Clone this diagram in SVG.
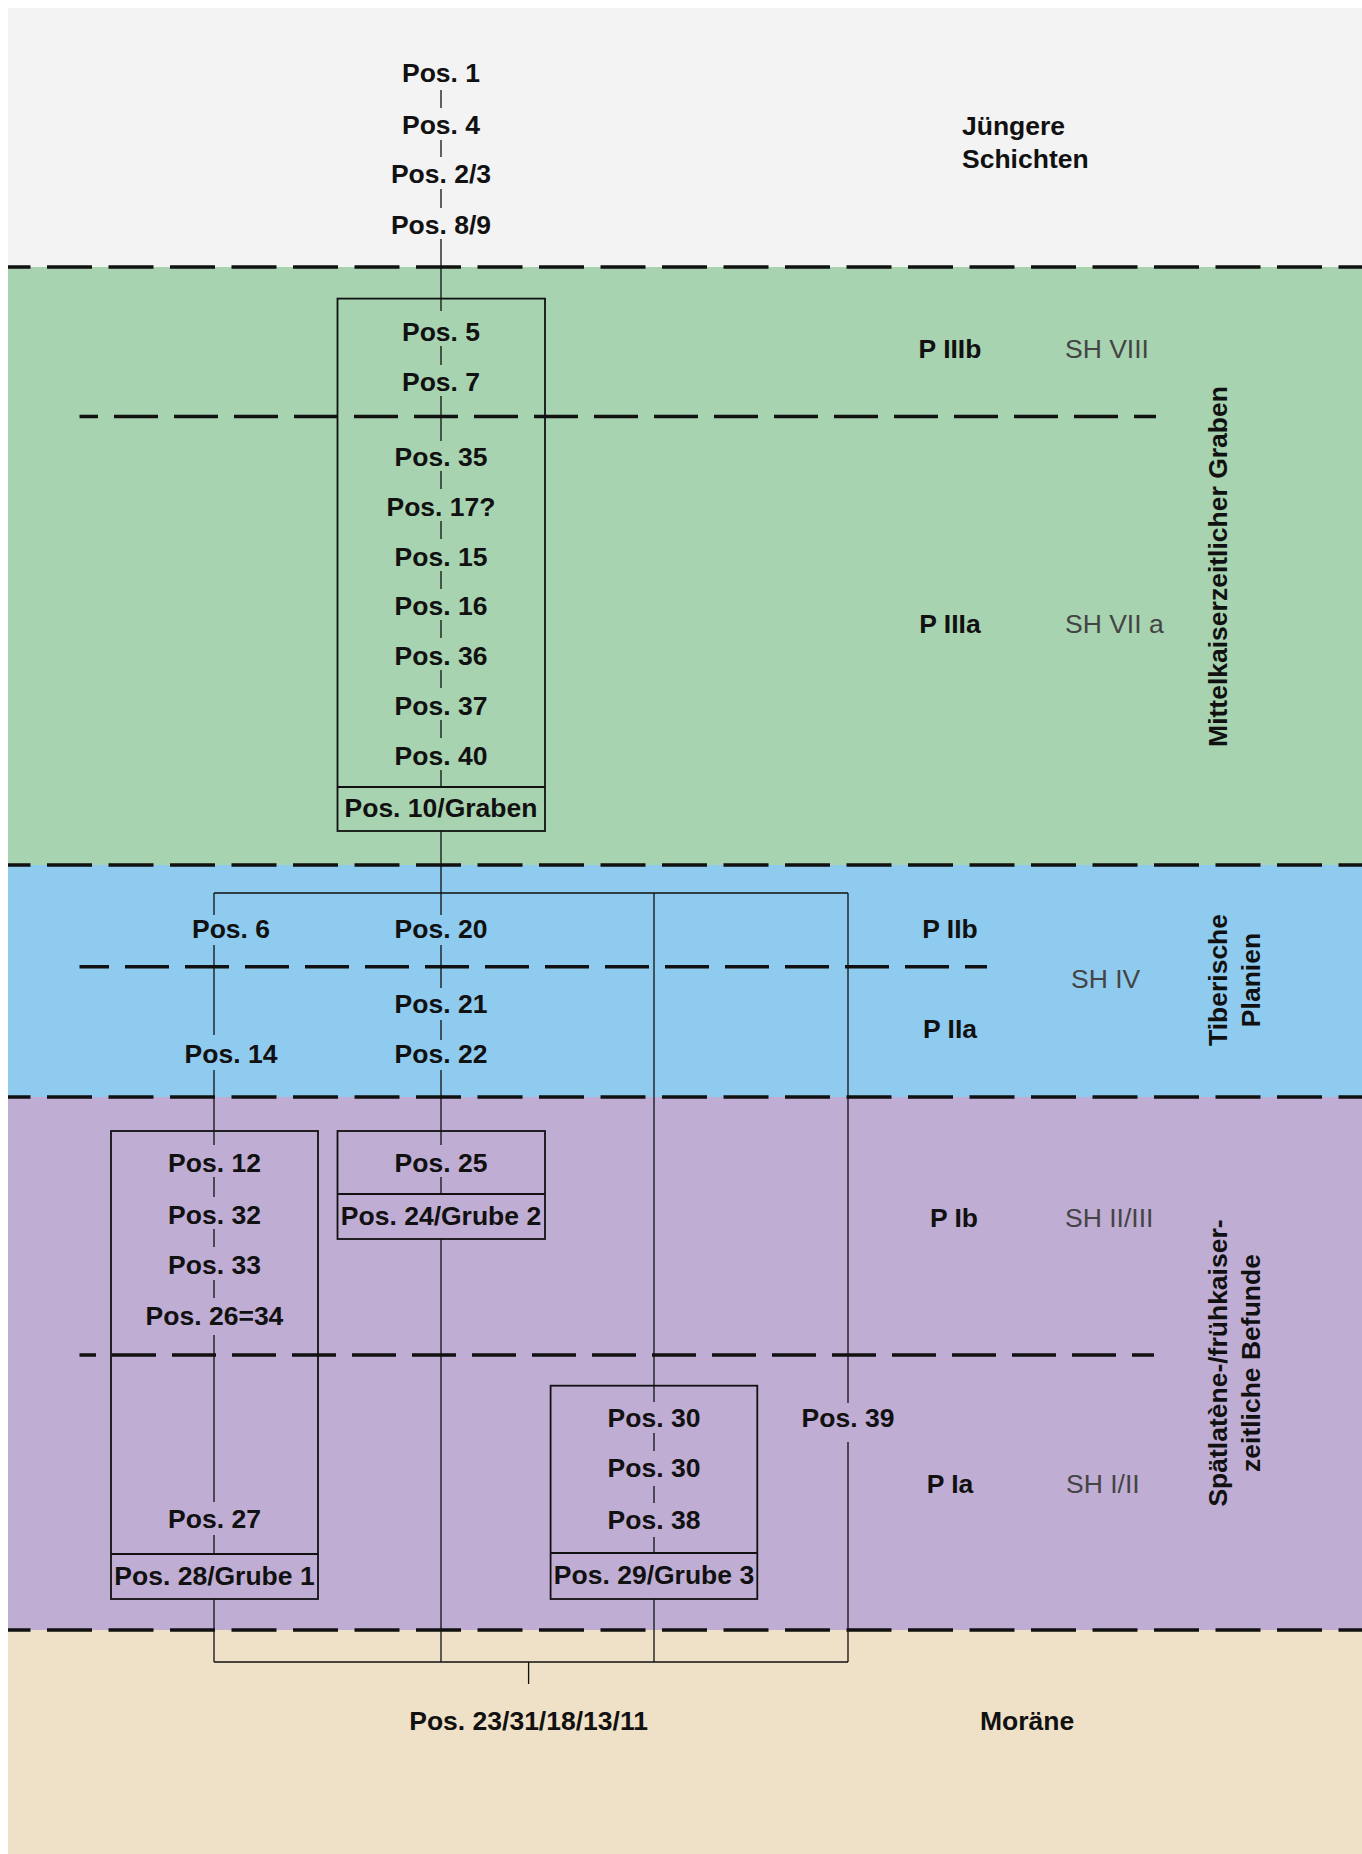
<svg xmlns="http://www.w3.org/2000/svg" width="1362" height="1854" viewBox="0 0 1362 1854">
<style>
.t{font-family:"Liberation Sans",Arial,sans-serif;font-size:26.5px;font-weight:bold;fill:#111;text-anchor:middle}
.l{text-anchor:start}
.sh{font-family:"Liberation Sans",Arial,sans-serif;font-size:26.5px;fill:#444;text-anchor:start}
.main{stroke:#111;stroke-width:3.5;stroke-dasharray:45 16.5;stroke-dashoffset:22.5;fill:none}
.inner{stroke:#111;stroke-width:3.5;stroke-dasharray:44 16;stroke-dashoffset:22;fill:none}
.c{stroke:#111;stroke-width:1.3;fill:none}
.box{stroke:#111;stroke-width:1.8;fill:none}
</style>
<g id="bands">
<rect x="8" y="8" width="1354" height="259" fill="#f3f3f3"/>
<rect x="8" y="267" width="1354" height="598" fill="#a8d3b0"/>
<rect x="8" y="865" width="1354" height="232" fill="#8fcbef"/>
<rect x="8" y="1097" width="1354" height="533" fill="#bfadd4"/>
<rect x="8" y="1630" width="1354" height="224" fill="#efe1c7"/>
</g>
<g id="boxes">
<g id="box-graben"><rect class="box" x="337.5" y="298.6" width="207.5" height="532.4"/><line class="box" x1="337.5" y1="787" x2="545" y2="787"/></g>
<g id="box-grube1"><rect class="box" x="111" y="1131" width="207" height="468"/><line class="box" x1="111" y1="1554" x2="318" y2="1554"/></g>
<g id="box-grube2"><rect class="box" x="337.5" y="1131" width="207.5" height="108"/><line class="box" x1="337.5" y1="1194" x2="545" y2="1194"/></g>
<g id="box-grube3"><rect class="box" x="550.6" y="1385.7" width="206.7" height="213.3"/><line class="box" x1="550.6" y1="1553" x2="757.3" y2="1553"/></g>
</g>
<g id="connectors">
<path class="c" d="M441 90V108M441 140V157M441 189V208M441 239V311M441 346V365M441 396V441M441 471V489M441 521V539M441 571V589M441 620V638M441 670V688M441 720V738M441 770V787M441 831V915M441 945V988M441 1020V1040M441 1070V1145M441 1177V1194M441 1239V1662"/>
<path class="c" d="M214 893V915M214 945V1035M214 1070V1145M214 1177V1197M214 1229V1247M214 1280V1298M214 1335V1502M214 1535V1554M214 1599V1662"/>
<path class="c" d="M654 893V1402M654 1433V1451M654 1486V1503M654 1537V1553M654 1599V1662"/>
<path class="c" d="M848 893V1403M848 1442V1662"/>
<path class="c" d="M214 893H848M214 1662H848M528.6 1662V1684"/>
</g>
<g id="dividers">
<line class="main" x1="8" y1="267" x2="1362" y2="267"/>
<line class="main" x1="8" y1="865" x2="1362" y2="865"/>
<line class="main" x1="8" y1="1097" x2="1362" y2="1097"/>
<line class="main" x1="8" y1="1630" x2="1362" y2="1630"/>
<line class="inner" x1="1156" y1="416.5" x2="79.5" y2="416.5"/>
<line class="inner" x1="987" y1="966.7" x2="79.5" y2="966.7"/>
<line class="inner" x1="1154" y1="1355" x2="79.5" y2="1355"/>
</g>
<g id="nodes">
<g id="n1"><text class="t" x="441" y="82">Pos. 1</text></g>
<g id="n4"><text class="t" x="441" y="134">Pos. 4</text></g>
<g id="n2-3"><text class="t" x="441" y="183">Pos. 2/3</text></g>
<g id="n8-9"><text class="t" x="441" y="234">Pos. 8/9</text></g>
<g id="n5"><text class="t" x="441" y="341">Pos. 5</text></g>
<g id="n7"><text class="t" x="441" y="391">Pos. 7</text></g>
<g id="n35"><text class="t" x="441" y="466">Pos. 35</text></g>
<g id="n17"><text class="t" x="441" y="516">Pos. 17?</text></g>
<g id="n15"><text class="t" x="441" y="566">Pos. 15</text></g>
<g id="n16"><text class="t" x="441" y="615">Pos. 16</text></g>
<g id="n36"><text class="t" x="441" y="665">Pos. 36</text></g>
<g id="n37"><text class="t" x="441" y="715">Pos. 37</text></g>
<g id="n40"><text class="t" x="441" y="765">Pos. 40</text></g>
<g id="n10"><text class="t" x="441" y="817">Pos. 10/Graben</text></g>
<g id="n6"><text class="t" x="231" y="938">Pos. 6</text></g>
<g id="n20"><text class="t" x="441" y="938">Pos. 20</text></g>
<g id="n21"><text class="t" x="441" y="1013">Pos. 21</text></g>
<g id="n14"><text class="t" x="231" y="1063">Pos. 14</text></g>
<g id="n22"><text class="t" x="441" y="1063">Pos. 22</text></g>
<g id="n12"><text class="t" x="214.5" y="1172">Pos. 12</text></g>
<g id="n32"><text class="t" x="214.5" y="1224">Pos. 32</text></g>
<g id="n33"><text class="t" x="214.5" y="1274">Pos. 33</text></g>
<g id="n26"><text class="t" x="214.5" y="1325">Pos. 26=34</text></g>
<g id="n27"><text class="t" x="214.5" y="1528">Pos. 27</text></g>
<g id="n28"><text class="t" x="214.5" y="1585">Pos. 28/Grube 1</text></g>
<g id="n25"><text class="t" x="441" y="1172">Pos. 25</text></g>
<g id="n24"><text class="t" x="441" y="1225">Pos. 24/Grube 2</text></g>
<g id="n30a"><text class="t" x="654" y="1427">Pos. 30</text></g>
<g id="n30b"><text class="t" x="654" y="1477">Pos. 30</text></g>
<g id="n38"><text class="t" x="654" y="1529">Pos. 38</text></g>
<g id="n29"><text class="t" x="654" y="1584">Pos. 29/Grube 3</text></g>
<g id="n39"><text class="t" x="848" y="1427">Pos. 39</text></g>
<g id="n23"><text class="t" x="528.6" y="1730">Pos. 23/31/18/13/11</text></g>
</g>
<g id="labels">
<text class="t l" x="962" y="135">Jüngere</text>
<text class="t l" x="962" y="168">Schichten</text>
<text class="t" x="950" y="358">P IIIb</text>
<text class="sh" x="1065" y="358">SH VIII</text>
<text class="t" x="950" y="633">P IIIa</text>
<text class="sh" x="1065" y="633">SH VII a</text>
<text class="t" x="950" y="938">P IIb</text>
<text class="sh" x="1071" y="988">SH IV</text>
<text class="t" x="950" y="1038">P IIa</text>
<text class="t" x="954" y="1227">P Ib</text>
<text class="sh" x="1065" y="1227">SH II/III</text>
<text class="t" x="950" y="1493">P Ia</text>
<text class="sh" x="1066" y="1493">SH I/II</text>
<text class="t" x="1027" y="1730">Moräne</text>
<text class="t" transform="translate(1227 566.5) rotate(-90)">Mittelkaiserzeitlicher Graben</text>
<text class="t" transform="translate(1227 980) rotate(-90)">Tiberische</text>
<text class="t" transform="translate(1260 980) rotate(-90)">Planien</text>
<text class="t" transform="translate(1227 1363) rotate(-90)">Spätlatène-/frühkaiser-</text>
<text class="t" transform="translate(1260 1363) rotate(-90)">zeitliche Befunde</text>
</g>
</svg>
